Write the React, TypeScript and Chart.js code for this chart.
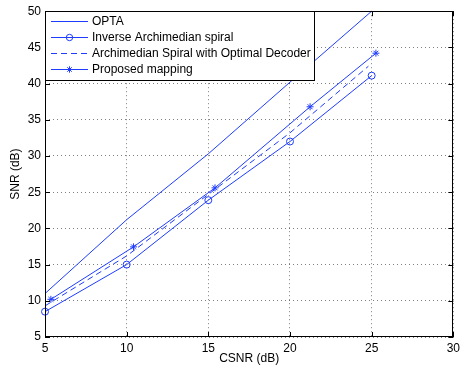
import React, { useEffect, useRef } from 'react';
import { Chart, registerables } from 'chart.js';
Chart.register(...registerables);

const seriesLabels = [
  'OPTA',
  'Inverse Archimedian spiral',
  'Archimedian Spiral with Optimal Decoder',
  'Proposed mapping',
];
const optaX = [5, 10, 15, 20, 25];
const optaY = [11, 21.2, 30.3, 40.2, 50];
const inverseX = [5, 10, 15, 20, 25];
const inverseY = [8.5, 15.0, 23.9, 32.0, 41.1];
const optimalX = [5, 10, 15, 20, 24.8];
const optimalY = [9.3, 16.2, 24.7, 33.2, 42.4];
const proposedX = [5.36, 10.42, 15.41, 21.23, 25.26];
const proposedY = [10.2, 17.45, 25.6, 36.8, 44.2];
const xTickValues = [5, 10, 15, 20, 25, 30];
const yTickValues = [5, 10, 15, 20, 25, 30, 35, 40, 45, 50];

const BLUE = 'rgb(30,60,255)';
const FONT = '"Liberation Sans", Arial, Helvetica, sans-serif';

const zip = (xs: number[], ys: number[]) => xs.map((x, i) => ({ x, y: ys[i] }));

const styles = [
  { dash: [] as number[], point: false as false | string },
  { dash: [] as number[], point: 'circle' },
  { dash: [6, 4], point: false as false | string },
  { dash: [] as number[], point: 'star' },
];

const frameAndLegend = {
  id: 'frameAndLegend',
  afterDatasetsDraw(chart: any) {
    const { ctx, chartArea: a, scales } = chart;
    ctx.save();
    ctx.strokeStyle = '#000';
    ctx.lineWidth = 1;
    ctx.setLineDash([]);
    ctx.beginPath();
    xTickValues.forEach((v) => {
      const px = Math.round(scales.x.getPixelForValue(v)) + 0.5;
      ctx.moveTo(px, a.bottom);
      ctx.lineTo(px, a.bottom - 5);
      ctx.moveTo(px, a.top);
      ctx.lineTo(px, a.top + 5);
    });
    yTickValues.forEach((v) => {
      const py = Math.round(scales.y.getPixelForValue(v)) + 0.5;
      ctx.moveTo(a.left, py);
      ctx.lineTo(a.left + 5, py);
      ctx.moveTo(a.right, py);
      ctx.lineTo(a.right - 5, py);
    });
    ctx.stroke();
    ctx.strokeRect(Math.round(a.left) + 0.5, Math.round(a.top) + 0.5, Math.round(a.right - a.left) - 1, Math.round(a.bottom - a.top) - 1);
    ctx.restore();
  },
  afterDraw(chart: any) {
    const { ctx, chartArea: a } = chart;
    ctx.save();
    const bx = Math.round(a.left) + 0.5;
    const by = Math.round(a.top) + 0.5;
    const bw = 269;
    const bh = 69;
    ctx.fillStyle = '#fff';
    ctx.fillRect(bx, by, bw, bh);
    ctx.strokeStyle = '#000';
    ctx.lineWidth = 1;
    ctx.strokeRect(bx, by, bw, bh);
    const rows = [20.7, 36.5, 52.5, 68.5];
    ctx.font = `12px ${FONT}`;
    ctx.textBaseline = 'middle';
    seriesLabels.forEach((label, i) => {
      const y = Math.round(rows[i]) + 0.5;
      const st = styles[i];
      ctx.strokeStyle = BLUE;
      ctx.lineWidth = 1;
      ctx.setLineDash(st.dash);
      ctx.beginPath();
      ctx.moveTo(51, y);
      ctx.lineTo(88, y);
      ctx.stroke();
      ctx.setLineDash([]);
      if (st.point === 'circle') {
        ctx.beginPath();
        ctx.arc(69.5, y, 3.2, 0, Math.PI * 2);
        ctx.stroke();
      } else if (st.point === 'star') {
        const r = 3.2;
        ctx.beginPath();
        for (let k = 0; k < 4; k++) {
          const ang = (k * Math.PI) / 4;
          ctx.moveTo(69.5 - r * Math.cos(ang), y - r * Math.sin(ang));
          ctx.lineTo(69.5 + r * Math.cos(ang), y + r * Math.sin(ang));
        }
        ctx.stroke();
      }
      ctx.fillStyle = '#000';
      ctx.fillText(label, 92, y + 0.5);
    });
    ctx.restore();
  },
};

export default function App() {
  const ref = useRef<HTMLCanvasElement | null>(null);
  useEffect(() => {
    if (!ref.current) return;
    const dataArrs = [
      zip(optaX, optaY),
      zip(inverseX, inverseY),
      zip(optimalX, optimalY),
      zip(proposedX, proposedY),
    ];
    const chart = new Chart(ref.current, {
      type: 'line',
      data: {
        datasets: dataArrs.map((d, i) => ({
          label: seriesLabels[i],
          data: d,
          borderColor: BLUE,
          backgroundColor: 'transparent',
          borderWidth: 1,
          borderDash: styles[i].dash,
          pointStyle: (styles[i].point || 'circle') as any,
          pointRadius: styles[i].point ? 3.5 : 0,
          pointBorderWidth: 1,
          pointBorderColor: BLUE,
          pointBackgroundColor: 'transparent',
          tension: 0,
          fill: false,
          clip: false as any,
        })),
      },
      options: {
        responsive: false,
        animation: false,
        devicePixelRatio: 1,
        layout: { padding: { top: 9, right: 3, left: 0, bottom: 0 } },
        plugins: { legend: { display: false }, tooltip: { enabled: false } },
        scales: {
          x: {
            type: 'linear',
            min: 5,
            max: 30,
            afterFit: (s: any) => { s.height = 31; },
            afterBuildTicks: (s: any) => { s.ticks = xTickValues.map((v) => ({ value: v })); },
            ticks: { color: '#000', padding: 4, font: { family: FONT, size: 12 }, maxRotation: 0 },
            grid: { color: 'rgba(0,0,0,0.5)', lineWidth: 1, drawTicks: false, tickBorderDash: [1, 3] as any },
            border: { display: false, dash: [1, 3] },
            title: { display: true, text: 'CSNR (dB)', color: '#000', font: { family: FONT, size: 12 }, padding: { top: 0, bottom: 2 } },
          },
          y: {
            type: 'linear',
            min: 5,
            max: 50,
            afterFit: (s: any) => { s.width = 45; },
            afterBuildTicks: (s: any) => { s.ticks = yTickValues.map((v) => ({ value: v })); },
            ticks: { color: '#000', padding: 4, font: { family: FONT, size: 12 } },
            grid: { color: 'rgba(0,0,0,0.5)', lineWidth: 1, drawTicks: false },
            border: { display: false, dash: [1, 3] },
            title: { display: true, text: 'SNR (dB)', color: '#000', font: { family: FONT, size: 12 }, padding: { top: 8, bottom: 0 } },
          },
        },
      },
      plugins: [frameAndLegend],
    });
    return () => chart.destroy();
  }, []);
  return (
    <div style={{ position: 'fixed', left: 0, top: 0, width: 464, height: 368, background: '#fff' }}>
      <canvas ref={ref} width={464} height={368} style={{ display: 'block' }} />
    </div>
  );
}
